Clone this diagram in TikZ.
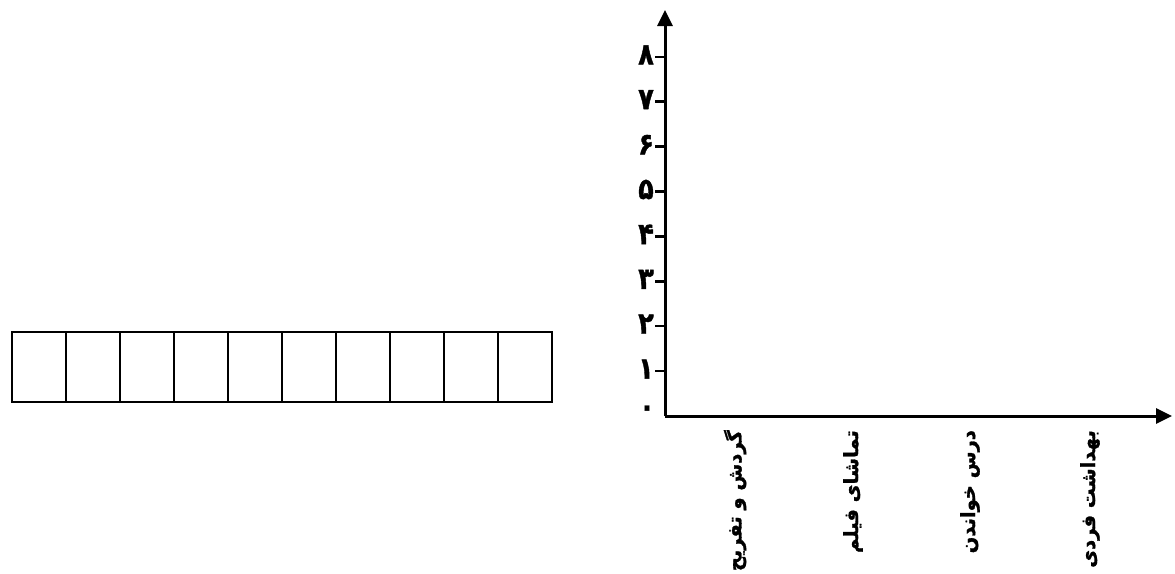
\documentclass[tikz,border=0pt]{standalone}
\usepackage{fontspec}
\newfontfamily\arabicfont[Script=Arabic,FakeBold=1.5]{DejaVu Sans Bold}
\TeXXeTstate=1
\usetikzlibrary{arrows.meta}
\begin{document}
\begin{tikzpicture}[x=1pt,y=-1pt,
  axisline/.style={line width=3pt,-{Triangle[length=16pt,width=15pt]}},
  tickline/.style={line width=2.5pt},
  cell/.style={draw,line width=2.5pt,minimum width=54pt,minimum height=70pt,inner sep=0pt,outer sep=0pt},
  digit/.style={font=\arabicfont\fontsize{30}{30}\selectfont,inner sep=0pt,xscale=0.85},
  catlabel/.style={font=\arabicfont\fontsize{19.5}{19.5}\selectfont,rotate=90,anchor=east,inner sep=0pt}]
\useasboundingbox (0,0) rectangle (1175,573);
\fill[white] (0,0) rectangle (1175,573);
% grid of cells
\foreach \i in {1,...,10}{
  \node[cell] (c\i) at ({12+54*(\i-0.5)},367) {};
}
% axes
\coordinate (O) at (665,416);
\coordinate (ytip) at (665,10);
\coordinate (xtip) at (1172,416);
\draw[axisline] (O) -- (ytip);
\draw[axisline] (O) -- (xtip);
% ticks and digits
\foreach \n/\d in {1/۱,2/۲,3/۳,4/۴,5/۵,6/۶,7/۷,8/۸}{
  \coordinate (t\n) at (655,{416-44.9*\n});
  \draw[tickline] (t\n) -- ++(10,0);
  \node[digit] (d\n) at (646,{414-44.9*\n}) {\beginR\d\endR};
}
\node[digit] (d0) at (647,411) {\beginR۰\endR};
% category labels
\node[catlabel] (l1) at (735,430) {\beginR گردش و تفریح\endR};
\node[catlabel] (l2) at (853,430) {\beginR تماشای فیلم\endR};
\node[catlabel] (l3) at (970,430) {\beginR درس خواندن\endR};
\node[catlabel] (l4) at (1090,430) {\beginR بهداشت فردی\endR};
\end{tikzpicture}
\end{document}
